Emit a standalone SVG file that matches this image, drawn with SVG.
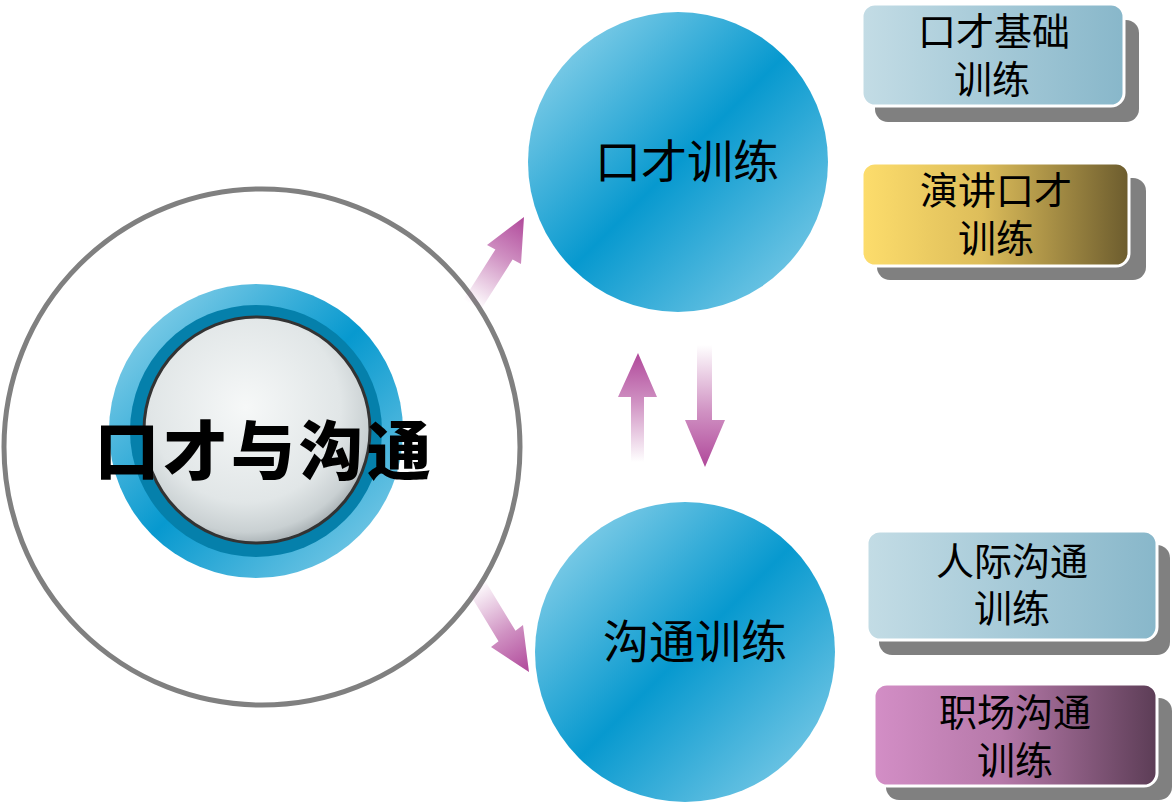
<svg xmlns="http://www.w3.org/2000/svg" width="1172" height="802" viewBox="0 0 1172 802">
<style>
.cjk{font-family:"Liberation Serif","Noto Sans CJK SC","Noto Sans CJK JP",serif;fill:#000;text-anchor:middle}
.box{stroke:#fff;stroke-width:3}
.shadow{fill:#808080}
</style>
<defs>
<linearGradient id="blue" x1="0" y1="0" x2="1" y2="1">
<stop offset="0" stop-color="#a2dbee"/>
<stop offset="0.5" stop-color="#0799cf"/>
<stop offset="1" stop-color="#8ed2ea"/>
</linearGradient>
<radialGradient id="disc" cx="0.45" cy="0.4" r="0.6">
<stop offset="0" stop-color="#f6f8f8"/>
<stop offset="0.7" stop-color="#e1e6e7"/>
<stop offset="0.92" stop-color="#c9d0d2"/>
<stop offset="1" stop-color="#aeb6b9"/>
</radialGradient>
<linearGradient id="gBlue" x1="0" y1="0" x2="1" y2="0">
<stop offset="0" stop-color="#c3dce5"/>
<stop offset="1" stop-color="#88b7ca"/>
</linearGradient>
<linearGradient id="gGold" x1="0" y1="0" x2="1" y2="0">
<stop offset="0" stop-color="#fddd6c"/>
<stop offset="0.45" stop-color="#ddbd5a"/>
<stop offset="1" stop-color="#6c5c2e"/>
</linearGradient>
<linearGradient id="gPink" x1="0" y1="0" x2="1" y2="0">
<stop offset="0" stop-color="#d38ec6"/>
<stop offset="0.45" stop-color="#b679a9"/>
<stop offset="1" stop-color="#5c3d56"/>
</linearGradient>
<linearGradient id="a1" gradientUnits="userSpaceOnUse" x1="472" y1="305" x2="524" y2="217">
<stop offset="0" stop-color="#b0489a" stop-opacity="0"/>
<stop offset="0.55" stop-color="#b0489a" stop-opacity="0.6"/>
<stop offset="1" stop-color="#b0489a"/>
</linearGradient>
<linearGradient id="a2" gradientUnits="userSpaceOnUse" x1="476" y1="585" x2="529" y2="672">
<stop offset="0" stop-color="#b0489a" stop-opacity="0"/>
<stop offset="0.55" stop-color="#b0489a" stop-opacity="0.6"/>
<stop offset="1" stop-color="#b0489a"/>
</linearGradient>
<linearGradient id="a3" gradientUnits="userSpaceOnUse" x1="0" y1="462" x2="0" y2="353">
<stop offset="0" stop-color="#b0489a" stop-opacity="0"/>
<stop offset="0.55" stop-color="#b0489a" stop-opacity="0.6"/>
<stop offset="1" stop-color="#b0489a"/>
</linearGradient>
<linearGradient id="a4" gradientUnits="userSpaceOnUse" x1="0" y1="345" x2="0" y2="467">
<stop offset="0" stop-color="#b0489a" stop-opacity="0"/>
<stop offset="0.55" stop-color="#b0489a" stop-opacity="0.6"/>
<stop offset="1" stop-color="#b0489a"/>
</linearGradient>
</defs>
<rect width="1172" height="802" fill="#fff"/>

<g id="center-node">
<circle cx="262" cy="447" r="258" fill="none" stroke="#808080" stroke-width="5"/>
<circle cx="256" cy="431" r="147" fill="url(#blue)"/>
<circle cx="256" cy="431" r="126" fill="#0580ab"/>
<circle cx="257" cy="430" r="113" fill="url(#disc)" stroke="#333" stroke-width="3"/>
<text class="cjk" x="265" y="474" font-size="64" font-weight="900" letter-spacing="4">口才与沟通</text>
</g>

<g id="connectors">
<polygon points="463.4,299.9 495.4,249.4 487,245 524,217 521,264 512.6,259.6 480.6,310.1" fill="url(#a1)"/>
<polygon points="467.5,590.2 498.5,641.2 491,647 529,672 523,625 515.5,630.8 484.5,579.8" fill="url(#a2)"/>
<polygon points="631,462 631,397 618,397 638,353 657,397 644,397 644,462" fill="url(#a3)"/>
<polygon points="697,345 697,420 685,420 705,467 725,420 712,420 712,345" fill="url(#a4)"/>
</g>

<g id="node-speech">
<circle cx="678" cy="162" r="150" fill="url(#blue)"/>
<text class="cjk" x="687" y="178" font-size="46">口才训练</text>
</g>

<g id="node-comm">
<circle cx="685" cy="652" r="150" fill="url(#blue)"/>
<text class="cjk" x="695" y="658" font-size="46">沟通训练</text>
</g>

<g id="box-basic">
<rect class="shadow" x="875" y="20" width="264" height="102" rx="13"/>
<rect class="box" x="862" y="4" width="262" height="102" rx="13" fill="url(#gBlue)"/>
<text class="cjk" x="994" y="45" font-size="38">口才基础</text>
<text class="cjk" x="992" y="93" font-size="38">训练</text>
</g>

<g id="box-speech">
<rect class="shadow" x="877" y="178" width="269" height="102" rx="13"/>
<rect class="box" x="862" y="163" width="267" height="103" rx="13" fill="url(#gGold)"/>
<text class="cjk" x="996" y="204" font-size="38">演讲口才</text>
<text class="cjk" x="996" y="252" font-size="38">训练</text>
</g>

<g id="box-people">
<rect class="shadow" x="879" y="545" width="291" height="110" rx="13"/>
<rect class="box" x="867" y="531" width="290" height="109" rx="13" fill="url(#gBlue)"/>
<text class="cjk" x="1012" y="575" font-size="38">人际沟通</text>
<text class="cjk" x="1012" y="622" font-size="38">训练</text>
</g>

<g id="box-work">
<rect class="shadow" x="886" y="698" width="286" height="102" rx="13"/>
<rect class="box" x="874" y="684" width="283" height="102" rx="13" fill="url(#gPink)"/>
<text class="cjk" x="1015" y="726" font-size="38">职场沟通</text>
<text class="cjk" x="1015" y="774" font-size="38">训练</text>
</g>
</svg>
